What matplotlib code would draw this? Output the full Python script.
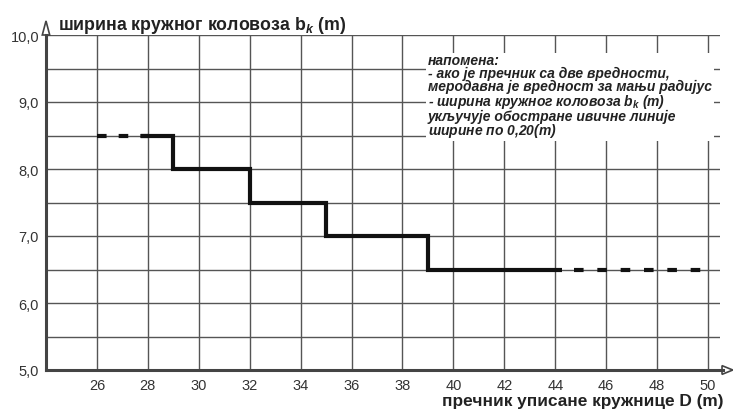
import matplotlib.pyplot as plt
from matplotlib.patches import Polygon

plt.rcParams['font.family'] = ['Liberation Sans', 'DejaVu Sans']
plt.rcParams['mathtext.fontset'] = 'custom'
plt.rcParams['mathtext.rm'] = 'Liberation Sans:bold'
plt.rcParams['mathtext.bf'] = 'Liberation Sans:bold'
plt.rcParams['mathtext.it'] = 'Liberation Sans:italic:bold'

# step curve: bk as a function of D
step_edges = [28, 29, 32, 35, 39, 44]
step_widths = [8.5, 8.0, 7.5, 7.0, 6.5]
dash_left = [26, 28]      # dashed continuation at 8.5
dash_right = [44, 50]     # dashed continuation at 6.5

x_ticks = list(range(26, 51, 2))
y_ticks = [5.0, 6.0, 7.0, 8.0, 9.0, 10.0]
y_tick_labels = ['5,0', '6,0', '7,0', '8,0', '9,0', '10,0']

grid_col = '#555555'
line_col = '#111111'
text_col = '#333333'

fig = plt.figure(figsize=(7.33, 4.10), dpi=100)
ax = fig.add_axes([46 / 733, 1 - 371 / 410, (720 - 46) / 733, (371 - 36) / 410])
ax.set_xlim(24, 50.47)
ax.set_ylim(5, 10)

ax.set_xticks(x_ticks)
ax.set_xticklabels([str(v) for v in x_ticks])
ax.set_yticks(y_ticks)
ax.set_yticklabels(y_tick_labels)
ax.set_yticks([5.5, 6.5, 7.5, 8.5, 9.5], minor=True)
ax.tick_params(which='both', length=0, colors=text_col, labelsize=10.5)
ax.tick_params(axis='x', pad=5.5)
ax.tick_params(axis='y', pad=5)
ax.grid(True, which='both', color=grid_col, lw=1.0)
ax.set_axisbelow(True)

for s in ['top', 'right']:
    ax.spines[s].set_visible(False)
for s in ['left', 'bottom']:
    ax.spines[s].set_color('#444444')
    ax.spines[s].set_linewidth(2.2)
ax.spines['bottom'].set_bounds(24, 50.6)

# step line
xs, ys = [27.75], [step_widths[0]]
for i, w in enumerate(step_widths):
    xs.append(step_edges[i + 1])
    ys.append(w)
    if i + 1 < len(step_widths):
        xs.append(step_edges[i + 1])
        ys.append(step_widths[i + 1])
xs[-1] = step_edges[-1] + 0.25
ax.plot(xs, ys, color=line_col, lw=3, solid_joinstyle='miter', solid_capstyle='butt')

ax.plot(dash_left, [step_widths[0]] * 2, color=line_col, lw=3,
        linestyle=(0, (2.3, 2.9)), dash_capstyle='butt')
ax.plot([dash_right[0] + 0.75, dash_right[1]], [step_widths[-1]] * 2, color=line_col, lw=3,
        linestyle=(0, (2.3, 3.3)), dash_capstyle='butt')

# axis arrows
ax.add_patch(Polygon([[-0.0055, 1.0], [0.0055, 1.0], [0.0, 1.042]], closed=True,
                     transform=ax.transAxes, clip_on=False, fc='white', ec='#444444', lw=1.2))
ax.add_patch(Polygon([[1.003, -0.013], [1.003, 0.013], [1.019, 0.0]], closed=True,
                     transform=ax.transAxes, clip_on=False, fc='white', ec='#444444', lw=1.2))

fig.text(58 / 733, 1 - 26 / 410, r'ширина кружног коловоза $\mathbf{b}_{\mathit{k}}$ (m)',
         fontsize=12.8, fontweight='bold', color='#222222', va='center', ha='left')
fig.text(724 / 733, 0.5 / 410, 'пречник уписане кружнице D (m)',
         fontsize=12.4, fontweight='bold', color='#222222', va='bottom', ha='right')

note = ('напомена:\n'
        '- ако је пречник са две вредности,\n'
        'меродавна је вредност за мањи радијус\n'
        r'- ширина кружног коловоза $b_k$ ($m$)' '\n'
        'укључује обостране ивичне линије\n'
        r'ширине по 0,20($m$)')
fig.text(428 / 733, 1 - 54 / 410, note, fontsize=10, fontweight='bold', style='italic',
         color='#222222', va='top', ha='left', linespacing=0.9,
         bbox=dict(facecolor='white', edgecolor='none', pad=1.5))

fig.savefig('out.png', dpi=100)
